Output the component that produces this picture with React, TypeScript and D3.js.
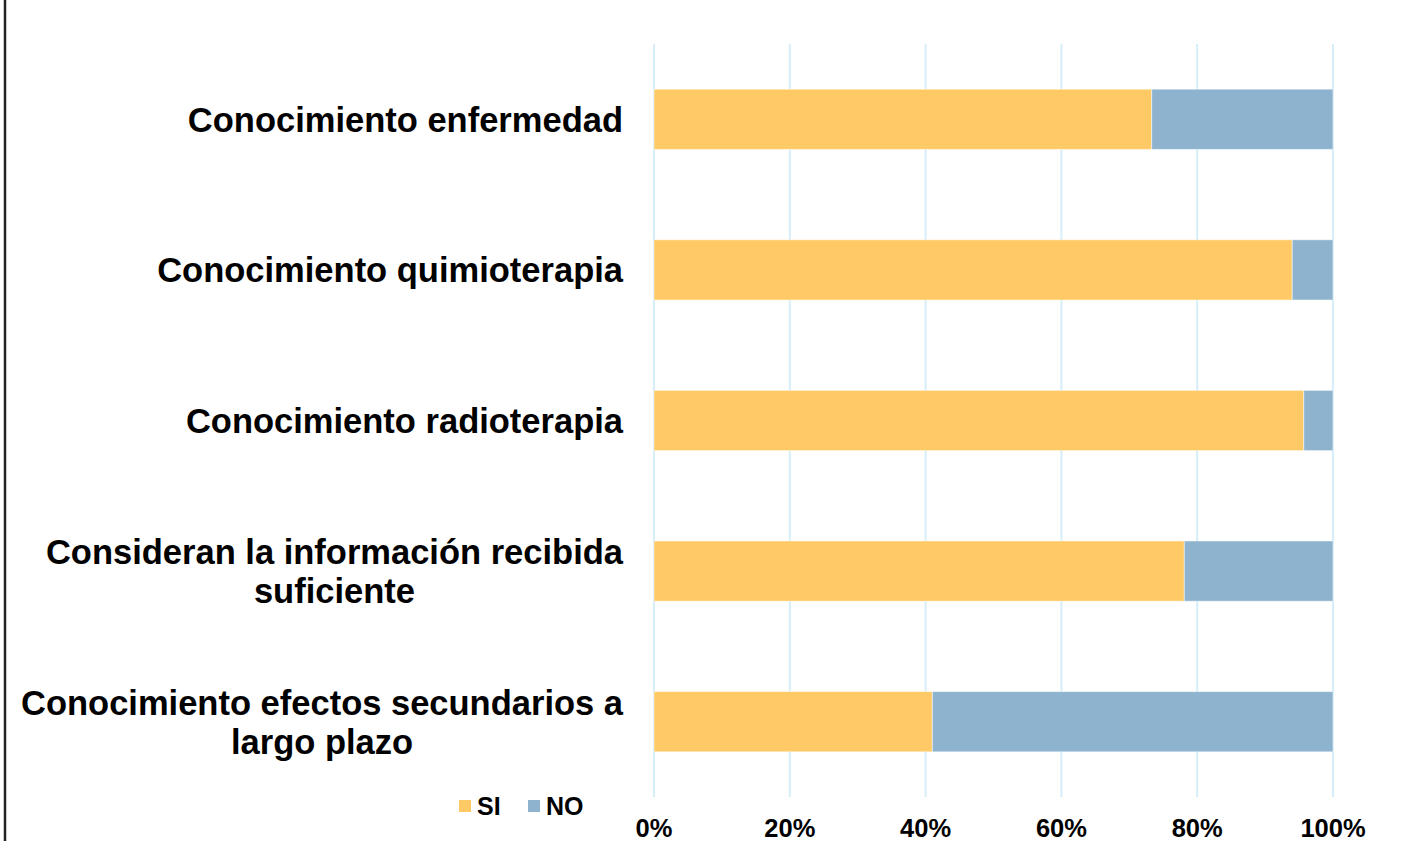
import React, { useEffect, useRef } from "react";
import * as d3 from "d3";

const categories: string[][] = [
  ["Conocimiento enfermedad"],
  ["Conocimiento quimioterapia"],
  ["Conocimiento radioterapia"],
  ["Consideran la información recibida", "suficiente"],
  ["Conocimiento efectos secundarios a", "largo plazo"],
];
const siValues = [73.3, 94.0, 95.7, 78.1, 41.0];
const noValues = [26.7, 6.0, 4.3, 21.9, 59.0];
const xTicks = [0, 20, 40, 60, 80, 100];
const seriesNames = ["SI", "NO"];
const seriesColors = ["#FFCA66", "#8DB3CE"];

const W = 1422;
const H = 841;
const FONT = "'Liberation Sans', Arial, sans-serif";

export default function App() {
  const ref = useRef<SVGSVGElement>(null);
  useEffect(() => {
    const svg = d3.select(ref.current);
    svg.selectAll("*").remove();

    const x = d3.scaleLinear().domain([0, 100]).range([654, 1333]);
    const y = d3
      .scaleBand<number>()
      .domain(categories.map((_, i) => i))
      .range([44, 797])
      .paddingInner(0.6)
      .paddingOuter(0.3);

    // left border
    svg.append("line").attr("x1", 5).attr("x2", 5).attr("y1", 0).attr("y2", H)
      .attr("stroke", "#222").attr("stroke-width", 2.5);

    // gridlines
    svg.append("g").selectAll("line").data(xTicks).join("line")
      .attr("x1", (d) => x(d)).attr("x2", (d) => x(d))
      .attr("y1", 44).attr("y2", 797)
      .attr("stroke", "#D5EEF9").attr("stroke-width", 2);

    // bars
    const bars = svg.append("g");
    categories.forEach((_, i) => {
      const y0 = y(i)!;
      const bh = y.bandwidth();
      bars.append("rect").attr("x", x(0)).attr("y", y0)
        .attr("width", x(siValues[i]) - x(0)).attr("height", bh)
        .attr("fill", seriesColors[0]).attr("stroke", "#fff").attr("stroke-opacity", 0.5).attr("stroke-width", 1);
      bars.append("rect").attr("x", x(siValues[i])).attr("y", y0)
        .attr("width", x(siValues[i] + noValues[i]) - x(siValues[i])).attr("height", bh)
        .attr("fill", seriesColors[1]).attr("stroke", "#fff").attr("stroke-opacity", 0.5).attr("stroke-width", 1);
    });

    // category labels
    const labelRight = 623;
    const lineH = 39;
    const catFs = 34.5;
    const capH = catFs * 0.716;
    const lg = svg.append("g");
    categories.forEach((lines, i) => {
      const cy = y(i)! + y.bandwidth() / 2;
      const texts = lines.map((ln) =>
        lg.append("text").text(ln)
          .attr("font-family", FONT).attr("font-weight", "bold")
          .attr("font-size", catFs).attr("fill", "#000")
          .attr("text-anchor", "middle")
      );
      const widths = texts.map((t) => (t.node() as SVGTextElement).getComputedTextLength());
      const maxW = Math.max(...widths);
      const cx = labelRight - maxW / 2;
      texts.forEach((t, j) => {
        const by = cy + (j - (lines.length - 1) / 2) * lineH + capH / 2;
        t.attr("x", cx).attr("y", by);
      });
    });

    // x tick labels
    svg.append("g").selectAll("text").data(xTicks).join("text")
      .text((d) => `${d}%`)
      .attr("x", (d) => x(d)).attr("y", 837)
      .attr("text-anchor", "middle")
      .attr("font-family", FONT).attr("font-weight", "bold")
      .attr("font-size", 25.5).attr("fill", "#000");

    // legend
    const legX = [459, 528];
    const leg = svg.append("g");
    seriesNames.forEach((name, i) => {
      leg.append("rect").attr("x", legX[i]).attr("y", 800).attr("width", 12).attr("height", 12)
        .attr("fill", seriesColors[i]);
      leg.append("text").text(name)
        .attr("x", legX[i] + 18).attr("y", 815)
        .attr("font-family", FONT).attr("font-weight", "bold")
        .attr("font-size", 25).attr("fill", "#000");
    });
  }, []);

  return (
    <svg
      ref={ref}
      width={W}
      height={H}
      style={{ position: "absolute", left: 0, top: 0, background: "#fff" }}
    />
  );
}
